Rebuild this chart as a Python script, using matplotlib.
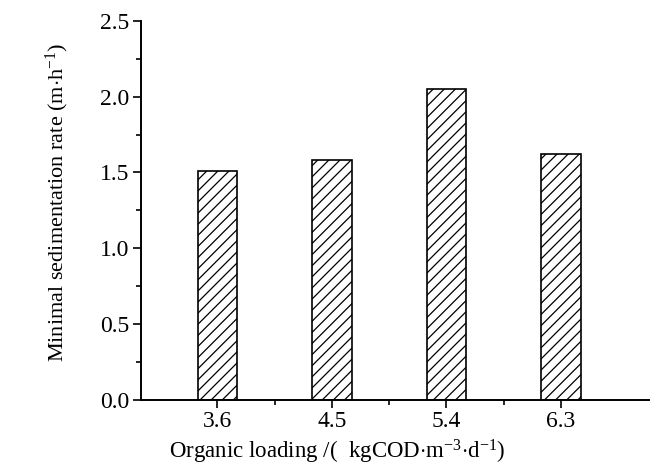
import matplotlib
matplotlib.use('Agg')
import matplotlib.pyplot as plt
from matplotlib.ticker import FixedLocator, MultipleLocator, FormatStrFormatter

# organic loading (kgCOD/m3/d) and minimal sedimentation rate (m/h)
loading = [3.6, 4.5, 5.4, 6.3]
rate = [1.51, 1.58, 2.05, 1.62]
loading_labels = ['3.6', '4.5', '5.4', '6.3']
minor_x = [4.05, 4.95, 5.85]

plt.rcParams['font.family'] = ['Liberation Serif', 'DejaVu Serif']
plt.rcParams['mathtext.fontset'] = 'custom'
plt.rcParams['mathtext.rm'] = 'Liberation Serif'
plt.rcParams['mathtext.it'] = 'Liberation Serif:italic'
plt.rcParams['hatch.linewidth'] = 0.9

fig = plt.figure(figsize=(6.5, 4.66), dpi=100)
ax = fig.add_axes([141 / 650, 1 - 399.5 / 466, 1 - 141 / 650, (399.5 - 21) / 466])

ax.bar(loading, rate, width=0.31, color='white', edgecolor='black',
       linewidth=1.2, hatch='///')

ax.set_xlim(3.0, 7.0)
ax.set_ylim(0, 2.5)
ax.set_xticks(loading)
ax.set_xticklabels(loading_labels)
ax.xaxis.set_minor_locator(FixedLocator(minor_x))
ax.yaxis.set_major_locator(MultipleLocator(0.5))
ax.yaxis.set_minor_locator(MultipleLocator(0.25))
ax.yaxis.set_major_formatter(FormatStrFormatter('%.1f'))

for s in ['top', 'right']:
    ax.spines[s].set_visible(False)
for s in ['left', 'bottom']:
    ax.spines[s].set_linewidth(1.4)

ax.tick_params(which='major', direction='out', length=5.5, width=1.2, labelsize=17, pad=3)
ax.tick_params(which='minor', direction='out', length=3.5, width=1.2)

fig.text(337 / 650, 1 - 458 / 466, r'Organic loading /(  kgCOD$\cdot$m$^{\mathrm{-3}}$$\cdot$d$^{\mathrm{-1}}$)',
         ha='center', va='baseline', fontsize=16.5)
fig.text(57 / 650, 1 - 202 / 466, r'Minimal sedimentation rate (m$\cdot$h$^{\mathrm{-1}}$)',
         ha='center', va='center', rotation=90, fontsize=16)

fig.savefig('out.png', dpi=100)
